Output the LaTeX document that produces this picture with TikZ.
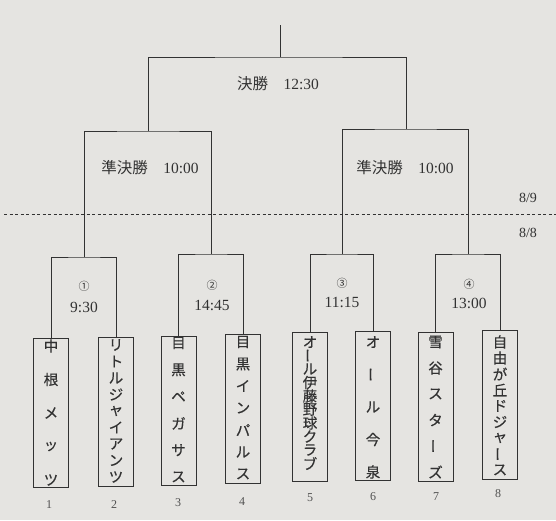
\documentclass[tikz,border=0pt]{standalone}
\usepackage{fontspec}
\usepackage{graphicx}
\newfontfamily\cjk{Noto Sans CJK JP}
\newfontfamily\cjkb[FakeBold=0.35]{Noto Sans CJK JP}
\newfontfamily\dig{Liberation Serif}
\definecolor{paper}{RGB}{229,228,225}
\definecolor{ink}{RGB}{50,50,50}
\newcommand\vbar{\rotatebox[origin=c]{90}{ー}}
\newcommand\teamtext[5]{\foreach[count=\i] \ch in {#5}{\node[chr,name=#1-\i] at ({#2},{#3+(\i-1)*#4}) {\ch};}}
\begin{document}
\begin{tikzpicture}[x=1pt,y=-1pt,
  line/.style={draw=ink, line width=0.9pt},
  team/.style={draw=ink, line width=0.9pt, minimum width=35pt, minimum height=149pt, inner sep=0pt},
  chr/.style={font=\cjkb\fontsize{14.5}{14.5}\selectfont, text=ink, inner sep=0pt},
  lbl/.style={font=\dig\fontsize{15.5}{15.5}\selectfont, text=ink, inner sep=0pt},
  cnum/.style={font=\cjk\fontsize{11}{11}\selectfont, text=ink, inner sep=0pt},
  num/.style={font=\dig\fontsize{12}{12}\selectfont, text=ink!85, inner sep=0pt},
  date/.style={font=\dig\fontsize{14}{14}\selectfont, text=ink, inner sep=0pt}]
\fill[paper] (0,0) rectangle (556,520);
\useasboundingbox (0,0) rectangle (556,520);

% team boxes
\node[team] (t1) at (51,413) {};
\node[team] (t2) at (116,412) {};
\node[team] (t3) at (178.5,410.5) {};
\node[team] (t4) at (243,408.5) {};
\node[team] (t5) at (310,407) {};
\node[team] (t6) at (373,405.5) {};
\node[team] (t7) at (435.5,407) {};
\node[team] (t8) at (500,405) {};

% team names
\teamtext{n1}{51}{346}{33.5}{中,根,メ,ッ,ツ}
\teamtext{n2}{116}{345}{16.5}{リ,ト,ル,ジ,ャ,イ,ア,ン,ツ}
\teamtext{n3}{178.5}{343}{26.8}{目,黒,ペ,ガ,サ,ス}
\teamtext{n4}{243}{342}{22}{目,黒,イ,ン,パ,ル,ス}
\teamtext{n5}{310}{342}{13.5}{オ,\vbar,ル,伊,藤,野,球,ク,ラ,ブ}
\teamtext{n6}{373}{342}{32.5}{オ,\vbar,ル,今,泉}
\teamtext{n7}{435.5}{342}{26}{雪,谷,ス,タ,\vbar,ズ}
\teamtext{n8}{500}{342}{16}{自,由,が,丘,ド,ジ,ャ,\vbar,ス}

% numbers below
\node[num] (b1) at (49,505) {1};
\node[num] (b2) at (114,505) {2};
\node[num] (b3) at (178,503) {3};
\node[num] (b4) at (242,502) {4};
\node[num] (b5) at (310,498) {5};
\node[num] (b6) at (373,497) {6};
\node[num] (b7) at (436,497) {7};
\node[num] (b8) at (498,494) {8};

% bracket junctions
\coordinate (q1) at (84.5,257);
\coordinate (q2) at (211.5,254);
\coordinate (q3) at (342,254);
\coordinate (q4) at (468.5,254);
\coordinate (s1) at (148.5,131);
\coordinate (s2) at (406,129);
\coordinate (f) at (280,57);
\coordinate (top) at (280,25);

\draw[line] (t1.north) |- (q1) -| (t2.north);
\draw[line] (t3.north) |- (q2) -| (t4.north);
\draw[line] (t5.north) |- (q3) -| (t6.north);
\draw[line] (t7.north) |- (q4) -| (t8.north);
\draw[line] (q1) |- (s1) -| (q2);
\draw[line] (q3) |- (s2) -| (q4);
\draw[line] (s1) |- (f) -| (s2);
\draw[line] (f) -- (top);

% day separator
\coordinate (dl) at (4,214);
\coordinate (dr) at (556,214);
\draw[draw=ink, line width=0.8pt, dash pattern=on 3pt off 2.5pt] (dl) -- (dr);
\node[date] (d9) at (528,198) {8/9};
\node[date] (d8) at (528,233) {8/8};

% labels
\node[lbl] (lf) at (278,84) {{\cjk 決勝}\hspace{1em}12:30};
\node[lbl] (ls1) at (150,168) {{\cjk 準決勝}\hspace{1em}10:00};
\node[lbl] (ls2) at (405,168) {{\cjk 準決勝}\hspace{1em}10:00};

\node[cnum] (c1) at (84,286) {①};
\node[lbl] (tm1) at (84,307) {9:30};
\node[cnum] (c2) at (212,285) {②};
\node[lbl] (tm2) at (212,305) {14:45};
\node[cnum] (c3) at (342,283) {③};
\node[lbl] (tm3) at (342,302) {11:15};
\node[cnum] (c4) at (469,284) {④};
\node[lbl] (tm4) at (469,303) {13:00};
\end{tikzpicture}
\end{document}
